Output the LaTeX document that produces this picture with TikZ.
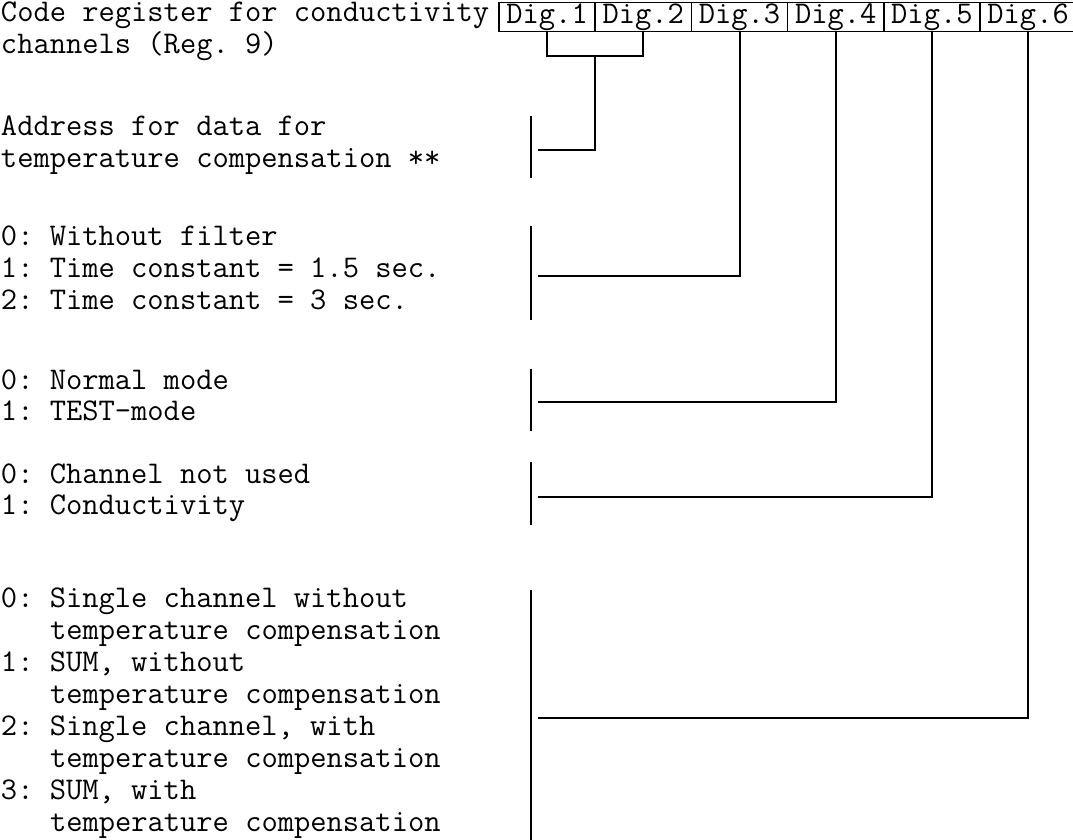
\documentclass[tikz,border=0pt]{standalone}
\usetikzlibrary{calc}
\tikzset{
  txt/.style={anchor=base west, inner sep=0pt, outer sep=0pt, font=\ttfamily\fontsize{15.8}{17}\selectfont\frenchspacing},
  cell/.style={draw, line width=0.8pt, minimum width=48.1pt, minimum height=14.5pt, inner sep=0pt, outer sep=0pt, font=\ttfamily\fontsize{15.8}{17}\selectfont},
  conn/.style={line width=1pt},
  bar/.style={line width=1pt},
}
\begin{document}
\begin{tikzpicture}[x=0.5pt,y=-0.5pt]
\useasboundingbox (0,0) rectangle (1073,840);
\clip (0,0) rectangle (1073,840);
% register cells
\node[cell] (d1) at (547.1,17) {Dig.1};
\node[cell] (d2) at (643.3,17) {Dig.2};
\node[cell] (d3) at (739.5,17) {Dig.3};
\node[cell] (d4) at (835.7,17) {Dig.4};
\node[cell] (d5) at (931.9,17) {Dig.5};
\node[cell] (d6) at (1028.1,17) {Dig.6};
% texts
\node[txt] (h1) at (1,22) {Code register for conductivity};
\node[txt] (h2) at (1,54) {channels (Reg. 9)};
\node[txt] (a1t) at (1,136) {Address for data for};
\node[txt] (a2t) at (1,168) {temperature compensation **};
\node[txt] (f1) at (1,246) {0: Without filter};
\node[txt] (f2) at (1,278) {1: Time constant = 1.5 sec.};
\node[txt] (f3) at (1,310) {2: Time constant = 3 sec.};
\node[txt] (m1) at (1,389) {0: Normal mode};
\node[txt] (m2) at (1,421) {1: TEST-mode};
\node[txt] (c1) at (1,483) {0: Channel not used};
\node[txt] (c2) at (1,515) {1: Conductivity};
\node[txt] (s1) at (1,607) {0: Single channel without};
\node[txt] (s2) at (50,639) {temperature compensation};
\node[txt] (s3) at (1,671) {1: SUM, without};
\node[txt] (s4) at (50,703) {temperature compensation};
\node[txt] (s5) at (1,735) {2: Single channel, with};
\node[txt] (s6) at (50,767) {temperature compensation};
\node[txt] (s7) at (1,799) {3: SUM, with};
\node[txt] (s8) at (50,831) {temperature compensation};
% bars
\draw[bar] (531,116) -- (531,178);
\draw[bar] (531,226) -- (531,320);
\draw[bar] (531,369) -- (531,431);
\draw[bar] (531,462) -- (531,525);
\draw[bar] (531,590) -- (531,842);
% connector end points
\coordinate (bm) at (595,56);
\coordinate (e1) at (538,150);
\coordinate (e3) at (538,276);
\coordinate (e4) at (538,402);
\coordinate (e5) at (538,497);
\coordinate (e6) at (538,718);
% connectors
\draw[conn] (d1.south) |- (bm) -| (d2.south);
\draw[conn] (bm) |- (e1);
\draw[conn] (d3.south) |- (e3);
\draw[conn] (d4.south) |- (e4);
\draw[conn] (d5.south) |- (e5);
\draw[conn] (d6.south) |- (e6);
\end{tikzpicture}
\end{document}
